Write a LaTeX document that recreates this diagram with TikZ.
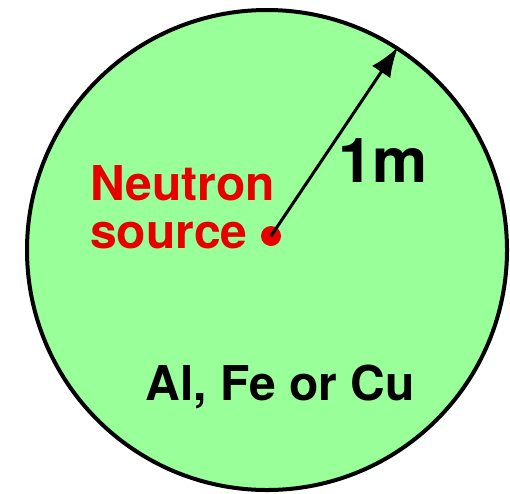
\documentclass[tikz,border=0pt]{standalone}
\usepackage{fontspec}
\setmainfont{TeX Gyre Heros}
\usetikzlibrary{arrows.meta}
\definecolor{shieldcol}{RGB}{153,255,153}
\definecolor{srccol}{RGB}{230,0,0}

\begin{document}
\begin{tikzpicture}[x=1pt,y=-1pt]
  \useasboundingbox (0,0) rectangle (510,493);
  \draw[line width=4pt,fill=shieldcol](267,250) circle(240);
  \fill[srccol](271,236) circle(10) coordinate(src);
  \coordinate (rim) at (398,47);
  \draw[-{Latex[length=30pt,width=22pt]},line width=3pt](src) -- (rim);
  \node[anchor=north west,inner sep=0,align=left,text=srccol,
    font=\bfseries\fontsize{48}{48}\selectfont](srclbl) at (90,165)
    {Neutron\\source};
  \node[anchor=base,inner sep=0,font=\bfseries\fontsize{62}{62}\selectfont]
    (radlbl) at (383,182){1m};
  \node[anchor=base,inner sep=0,font=\bfseries\fontsize{48}{48}\selectfont]
    (matlbl) at (280,400){Al, Fe or Cu};
\end{tikzpicture}
\end{document}
